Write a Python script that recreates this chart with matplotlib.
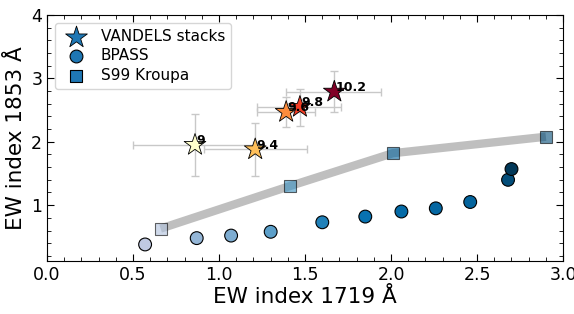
import matplotlib
matplotlib.use('Agg')
import matplotlib.pyplot as plt
import numpy as np
from matplotlib.ticker import MultipleLocator

# VANDELS stacks (mass bins)
stack_labels = ['9', '9.4', '9.6', '9.8', '10.2']
stack_mass = [9.0, 9.4, 9.6, 9.8, 10.2]
stack_x = [0.86, 1.21, 1.39, 1.47, 1.67]
stack_y = [1.95, 1.88, 2.47, 2.55, 2.79]
stack_xlo = [0.36, 0.30, 0.17, 0.25, 0.28]
stack_xhi = [0.34, 0.30, 0.17, 0.24, 0.27]
stack_ylo = [0.49, 0.42, 0.24, 0.30, 0.32]
stack_yhi = [0.49, 0.42, 0.23, 0.29, 0.33]

# BPASS models
bpass_x = [0.57, 0.87, 1.07, 1.30, 1.60, 1.85, 2.06, 2.26, 2.46, 2.68, 2.70]
bpass_y = [0.38, 0.48, 0.52, 0.58, 0.73, 0.82, 0.90, 0.95, 1.05, 1.40, 1.57]
bpass_c = [0.30, 0.42, 0.48, 0.55, 0.68, 0.74, 0.78, 0.80, 0.82, 0.92, 1.00]

# Starburst99 Kroupa models
s99_x = [0.66, 1.41, 2.01, 2.90]
s99_y = [0.63, 1.30, 1.82, 2.08]
s99_c = [0.35, 0.62, 0.82, 0.92]

fig, ax = plt.subplots(figsize=(5.74, 3.14), dpi=100)
fig.subplots_adjust(left=0.082, right=0.981, top=0.952, bottom=0.169)

# S99 track
ax.plot(s99_x, s99_y, color='grey', alpha=0.5, lw=6, zorder=1, solid_capstyle='butt')
ax.scatter(s99_x, s99_y, c=s99_c, cmap='PuBu', vmin=0, vmax=1, marker='s', s=75,
           edgecolors='k', linewidths=0.8, alpha=0.6, zorder=2)

# BPASS
ax.scatter(bpass_x, bpass_y, c=bpass_c, cmap='PuBu', vmin=0, vmax=1, marker='o', s=85,
           edgecolors='k', linewidths=0.8, zorder=3)

# stacks
ax.errorbar(stack_x, stack_y, xerr=[stack_xlo, stack_xhi], yerr=[stack_ylo, stack_yhi],
            fmt='none', ecolor='#c8c8c8', elinewidth=1, capsize=3, zorder=4)
ax.scatter(stack_x, stack_y, c=stack_mass, cmap='YlOrRd', vmin=9.0, vmax=10.2, marker='*',
           s=270, edgecolors='k', linewidths=0.6, zorder=5)
for lab, x, y in zip(stack_labels, stack_x, stack_y):
    ax.annotate(lab, (x, y), xytext=(1, 3), textcoords='offset points',
                ha='left', va='center', fontsize=9, fontweight='bold', zorder=6)

# legend handles
ax.scatter([], [], marker='*', s=270, color='#1f77b4', edgecolors='k', linewidths=0.6, label='VANDELS stacks')
ax.scatter([], [], marker='o', s=85, color='#1f77b4', edgecolors='k', linewidths=0.8, label='BPASS')
ax.scatter([], [], marker='s', s=75, color='#1f77b4', edgecolors='k', linewidths=0.8, label='S99 Kroupa')
ax.legend(loc='upper left', fontsize=11, handletextpad=0.6, borderpad=0.4, labelspacing=0.3)

ax.set_xlim(0, 3)
ax.set_ylim(0.12, 4)
ax.xaxis.set_minor_locator(MultipleLocator(0.1))
ax.yaxis.set_minor_locator(MultipleLocator(0.2))
ax.yaxis.set_major_locator(MultipleLocator(1))
ax.tick_params(which='both', direction='in', top=True, right=True, labelsize=12.5)
ax.tick_params(which='major', length=5)
ax.tick_params(which='minor', length=3)
ax.set_xlabel('EW index 1719 Å', fontsize=15.5, labelpad=2)
ax.set_ylabel('EW index 1853 Å', fontsize=15.5, labelpad=4)

fig.savefig('out.png', dpi=100)
